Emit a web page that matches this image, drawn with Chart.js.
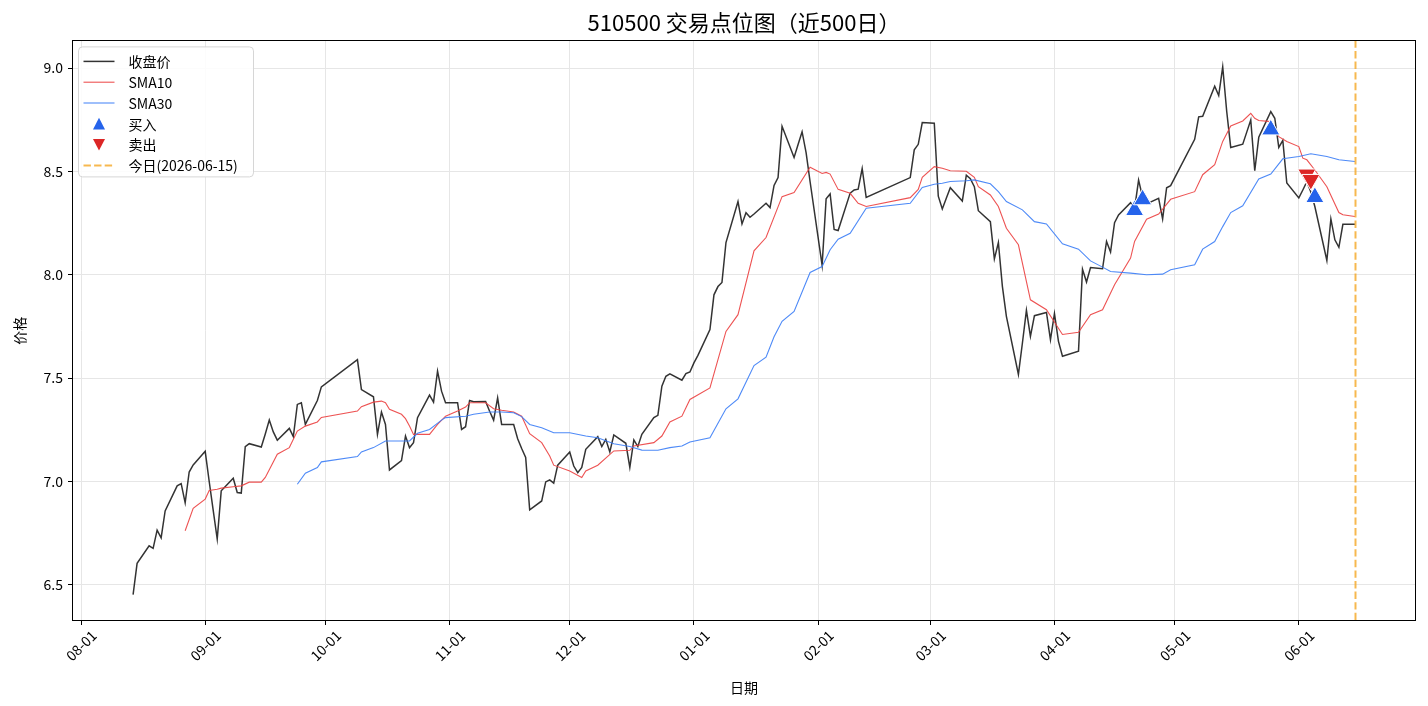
<!DOCTYPE html>
<html>
<head>
<meta charset="utf-8">
<title>510500 交易点位图</title>
<script src="https://cdn.jsdelivr.net/npm/chart.js@4.4.1/dist/chart.umd.min.js"></script>
<style>
  html, body { margin: 0; padding: 0; background: #fff; }
  #wrap { width: 1428px; height: 706px; }
</style>
</head>
<body>
<div id="wrap"><canvas id="chart" width="1428" height="706"></canvas></div>
<script>
const TITLE = "510500 交易点位图（近500日）";
const FONT = '"Noto Sans CJK SC", "Noto Sans", sans-serif';

// closing prices (trading days)
const closeDates = [
  "2025-08-14","2025-08-15","2025-08-18","2025-08-19","2025-08-20","2025-08-21","2025-08-22","2025-08-25","2025-08-26","2025-08-27","2025-08-28","2025-08-29",
  "2025-09-01","2025-09-02","2025-09-03","2025-09-04","2025-09-05","2025-09-08","2025-09-09","2025-09-10","2025-09-11","2025-09-12","2025-09-15","2025-09-16","2025-09-17","2025-09-18","2025-09-19","2025-09-22","2025-09-23","2025-09-24","2025-09-25","2025-09-26","2025-09-29","2025-09-30",
  "2025-10-09","2025-10-10","2025-10-13","2025-10-14","2025-10-15","2025-10-16","2025-10-17","2025-10-20","2025-10-21","2025-10-22","2025-10-23","2025-10-24","2025-10-27","2025-10-28","2025-10-29","2025-10-30","2025-10-31",
  "2025-11-03","2025-11-04","2025-11-05","2025-11-06","2025-11-07","2025-11-10","2025-11-11","2025-11-12","2025-11-13","2025-11-14","2025-11-17","2025-11-18","2025-11-19","2025-11-20","2025-11-21","2025-11-24","2025-11-25","2025-11-26","2025-11-27","2025-11-28",
  "2025-12-01","2025-12-02","2025-12-03","2025-12-04","2025-12-05","2025-12-08","2025-12-09","2025-12-10","2025-12-11","2025-12-12","2025-12-15","2025-12-16","2025-12-17","2025-12-18","2025-12-19","2025-12-22","2025-12-23","2025-12-24","2025-12-25","2025-12-26","2025-12-29","2025-12-30","2025-12-31",
  "2026-01-01","2026-01-02","2026-01-05","2026-01-06","2026-01-07","2026-01-08","2026-01-09","2026-01-12","2026-01-13","2026-01-14","2026-01-15","2026-01-16","2026-01-19","2026-01-20","2026-01-21","2026-01-22","2026-01-23","2026-01-26","2026-01-27","2026-01-28","2026-01-29","2026-01-30",
  "2026-02-02","2026-02-03","2026-02-04","2026-02-05","2026-02-06","2026-02-09","2026-02-10","2026-02-11","2026-02-12","2026-02-13","2026-02-24","2026-02-25","2026-02-26","2026-02-27",
  "2026-03-02","2026-03-03","2026-03-04","2026-03-05","2026-03-06","2026-03-09","2026-03-10","2026-03-11","2026-03-12","2026-03-13","2026-03-16","2026-03-17","2026-03-18","2026-03-19","2026-03-20","2026-03-23","2026-03-24","2026-03-25","2026-03-26","2026-03-27","2026-03-30","2026-03-31",
  "2026-04-01","2026-04-02","2026-04-03","2026-04-07","2026-04-08","2026-04-09","2026-04-10","2026-04-13","2026-04-14","2026-04-15","2026-04-16","2026-04-17","2026-04-20","2026-04-21","2026-04-22","2026-04-23","2026-04-24","2026-04-27","2026-04-28","2026-04-29","2026-04-30",
  "2026-05-06","2026-05-07","2026-05-08","2026-05-11","2026-05-12","2026-05-13","2026-05-14","2026-05-15","2026-05-18","2026-05-19","2026-05-20","2026-05-21","2026-05-22","2026-05-25","2026-05-26","2026-05-27","2026-05-28","2026-05-29",
  "2026-06-01","2026-06-02","2026-06-03","2026-06-04","2026-06-05","2026-06-08","2026-06-09","2026-06-10","2026-06-11","2026-06-12","2026-06-15"
];
const closeValues = [
  6.453,6.604,6.689,6.677,6.765,6.728,6.858,6.979,6.990,6.897,7.046,7.080,
  7.146,7.000,6.860,6.722,6.955,7.016,6.947,6.944,7.169,7.183,7.167,7.230,7.297,7.240,7.200,7.257,7.217,7.373,7.381,7.276,7.392,7.458,
  7.590,7.445,7.410,7.228,7.336,7.276,7.056,7.101,7.220,7.164,7.188,7.309,7.418,7.384,7.534,7.437,7.381,
  7.381,7.252,7.265,7.392,7.386,7.387,7.340,7.297,7.405,7.276,7.276,7.207,7.160,7.116,6.863,6.906,6.998,7.008,6.992,7.079,
  7.143,7.075,7.043,7.068,7.156,7.217,7.169,7.204,7.143,7.225,7.185,7.068,7.201,7.169,7.228,7.309,7.320,7.461,7.509,7.521,7.490,7.522,7.530,
  7.574,7.610,7.735,7.903,7.943,7.963,8.156,8.354,8.246,8.300,8.278,8.294,8.346,8.325,8.432,8.470,8.718,8.567,8.630,8.692,8.591,8.450,
  8.046,8.367,8.391,8.219,8.214,8.395,8.410,8.414,8.514,8.374,8.470,8.604,8.631,8.736,
  8.733,8.380,8.318,8.370,8.421,8.357,8.482,8.465,8.426,8.310,8.257,8.077,8.156,7.944,7.799,7.518,7.670,7.828,7.702,7.802,7.818,7.686,
  7.812,7.678,7.606,7.630,8.027,7.965,8.035,8.029,8.161,8.110,8.252,8.289,8.349,8.320,8.458,8.375,8.343,8.370,8.270,8.421,8.431,
  8.655,8.764,8.767,8.912,8.867,9.006,8.790,8.616,8.632,8.690,8.749,8.503,8.665,8.789,8.757,8.616,8.650,8.444,
  8.372,8.410,8.450,8.400,8.330,8.069,8.270,8.169,8.133,8.244,8.244
];

// 10-day moving average
const sma10Dates = [
  "2025-08-27","2025-08-29","2025-09-01","2025-09-02","2025-09-04","2025-09-05","2025-09-08","2025-09-10","2025-09-12","2025-09-15","2025-09-16","2025-09-19","2025-09-22","2025-09-24","2025-09-26","2025-09-29","2025-09-30",
  "2025-10-09","2025-10-10","2025-10-13","2025-10-15","2025-10-16","2025-10-17","2025-10-20","2025-10-21","2025-10-22","2025-10-23","2025-10-24","2025-10-27","2025-10-28","2025-10-29","2025-10-31",
  "2025-11-03","2025-11-05","2025-11-06","2025-11-10","2025-11-12","2025-11-14","2025-11-17","2025-11-19","2025-11-21","2025-11-24","2025-11-26","2025-11-27",
  "2025-12-01","2025-12-04","2025-12-05","2025-12-08","2025-12-12","2025-12-16","2025-12-17","2025-12-22","2025-12-24","2025-12-26","2025-12-29","2025-12-31",
  "2026-01-05","2026-01-09","2026-01-12","2026-01-16","2026-01-19","2026-01-23","2026-01-26","2026-01-30",
  "2026-02-02","2026-02-03","2026-02-04","2026-02-06","2026-02-09","2026-02-11","2026-02-13","2026-02-24","2026-02-26","2026-02-27",
  "2026-03-02","2026-03-04","2026-03-06","2026-03-10","2026-03-12","2026-03-13","2026-03-16","2026-03-18","2026-03-20","2026-03-23","2026-03-26","2026-03-30",
  "2026-04-03","2026-04-07","2026-04-10","2026-04-13","2026-04-16","2026-04-20","2026-04-21","2026-04-24","2026-04-27","2026-04-30",
  "2026-05-06","2026-05-08","2026-05-11","2026-05-13","2026-05-15","2026-05-18","2026-05-20","2026-05-21","2026-05-22","2026-05-25","2026-05-27","2026-05-29",
  "2026-06-01","2026-06-02","2026-06-03","2026-06-05","2026-06-08","2026-06-11","2026-06-12","2026-06-15"
];
const sma10Values = [
  6.762,6.870,6.915,6.957,6.963,6.968,6.975,6.979,6.997,6.997,7.020,7.132,7.164,7.244,7.268,7.288,7.310,
  7.341,7.362,7.384,7.389,7.381,7.349,7.325,7.304,7.268,7.228,7.228,7.228,7.252,7.276,7.316,
  7.341,7.360,7.381,7.381,7.352,7.345,7.336,7.316,7.231,7.188,7.123,7.079,
  7.051,7.019,7.051,7.079,7.148,7.151,7.172,7.188,7.220,7.288,7.316,7.397,
  7.453,7.726,7.807,8.116,8.180,8.378,8.398,8.520,
  8.490,8.495,8.487,8.413,8.394,8.346,8.330,8.373,8.413,8.471,
  8.523,8.515,8.503,8.501,8.471,8.426,8.386,8.330,8.225,8.145,7.879,7.831,
  7.711,7.722,7.807,7.831,7.952,8.081,8.161,8.269,8.294,8.365,
  8.402,8.484,8.532,8.645,8.720,8.744,8.781,8.757,8.746,8.741,8.668,8.645,
  8.620,8.564,8.556,8.507,8.426,8.301,8.290,8.282
];

// 30-day moving average
const sma30Dates = [
  "2025-09-24","2025-09-26","2025-09-29","2025-09-30",
  "2025-10-09","2025-10-10","2025-10-13","2025-10-16","2025-10-22","2025-10-24","2025-10-27","2025-10-30","2025-10-31",
  "2025-11-05","2025-11-07","2025-11-11","2025-11-14","2025-11-17","2025-11-19","2025-11-21","2025-11-24","2025-11-27",
  "2025-12-01","2025-12-05","2025-12-08","2025-12-12","2025-12-16","2025-12-19","2025-12-23","2025-12-26","2025-12-29","2025-12-31",
  "2026-01-05","2026-01-09","2026-01-12","2026-01-16","2026-01-19","2026-01-21","2026-01-23","2026-01-26","2026-01-30",
  "2026-02-02","2026-02-04","2026-02-06","2026-02-09","2026-02-13","2026-02-24","2026-02-27",
  "2026-03-02","2026-03-04","2026-03-06","2026-03-10","2026-03-12","2026-03-16","2026-03-18","2026-03-20","2026-03-24","2026-03-27","2026-03-30",
  "2026-04-03","2026-04-07","2026-04-10","2026-04-13","2026-04-15","2026-04-20","2026-04-24","2026-04-28","2026-04-30",
  "2026-05-06","2026-05-08","2026-05-11","2026-05-13","2026-05-15","2026-05-18","2026-05-22","2026-05-25","2026-05-28",
  "2026-06-01","2026-06-04","2026-06-08","2026-06-11","2026-06-15"
];
const sma30Values = [
  6.987,7.040,7.068,7.095,
  7.121,7.143,7.164,7.196,7.196,7.233,7.252,7.297,7.309,
  7.316,7.325,7.336,7.336,7.333,7.314,7.276,7.260,7.236,
  7.236,7.220,7.212,7.183,7.169,7.152,7.151,7.164,7.172,7.191,
  7.212,7.352,7.400,7.561,7.601,7.700,7.775,7.823,8.011,
  8.040,8.121,8.172,8.201,8.322,8.346,8.422,
  8.438,8.443,8.451,8.455,8.459,8.440,8.402,8.354,8.314,8.257,8.246,
  8.150,8.124,8.067,8.037,8.016,8.008,8.000,8.003,8.024,
  8.048,8.124,8.161,8.233,8.301,8.334,8.463,8.487,8.561,
  8.572,8.585,8.572,8.556,8.548
];

// trade signals
const buyDates = ["2026-04-21", "2026-04-23", "2026-05-25", "2026-06-05"];
const buyValues = [8.312, 8.364, 8.702, 8.375];
const sellDates = ["2026-06-03", "2026-06-04"];
const sellValues = [8.486, 8.460];

const todayDate = "2026-06-15";
const monthTicks = ["2025-08-01","2025-09-01","2025-10-01","2025-11-01","2025-12-01","2026-01-01","2026-02-01","2026-03-01","2026-04-01","2026-05-01","2026-06-01"];
const yTicks = [6.5, 7.0, 7.5, 8.0, 8.5, 9.0];

const DAY0 = Date.UTC(2025, 7, 1);
function dayNum(s) {
  const p = s.split("-").map(Number);
  return (Date.UTC(p[0], p[1] - 1, p[2]) - DAY0) / 86400000;
}
function pts(dates, vals) {
  return dates.map((d, i) => ({x: dayNum(d), y: vals[i]}));
}

// axis limits like matplotlib auto margins (5%)
const xFirst = dayNum(closeDates[0]);
const xLast = dayNum(todayDate);
const xPad = (xLast - xFirst) * 0.05;
const yLo = Math.min(...closeValues), yHi = Math.max(...closeValues);
const yPad = (yHi - yLo) * 0.05;

const todayLabel = "今日(" + todayDate + ")";
const todayColor = "rgba(245,166,35,0.8)";

const framePlugin = {
  id: "frame",
  afterDatasetsDraw(chart) {
    const {ctx, chartArea: a, scales} = chart;
    const x = Math.round(scales.x.getPixelForValue(dayNum(todayDate))) + 0.5;
    ctx.save();
    ctx.strokeStyle = todayColor;
    ctx.lineWidth = 2;
    ctx.setLineDash([7.4, 3.2]);
    ctx.beginPath();
    ctx.moveTo(x, a.top);
    ctx.lineTo(x, a.bottom);
    ctx.stroke();
    ctx.restore();
  },
  afterDraw(chart) {
    const {ctx, chartArea: a} = chart;
    ctx.save();
    ctx.strokeStyle = "#000";
    ctx.lineWidth = 1;
    ctx.strokeRect(Math.round(a.left) + 0.5, Math.round(a.top) + 0.5,
                   Math.round(a.right - a.left) - 1, Math.round(a.bottom - a.top) - 1);

    // legend box, upper left
    const bx = a.left + 6.5, by = a.top + 6.5, bw = 175, bh = 130;
    ctx.fillStyle = "rgba(255,255,255,0.85)";
    ctx.strokeStyle = "#d6d6d6";
    ctx.beginPath();
    ctx.roundRect(bx, by, bw, bh, 4);
    ctx.fill();
    ctx.stroke();

    const items = chart.data.datasets.map(ds => ds);
    items.push({label: todayLabel, today: true});
    ctx.font = "14px " + FONT;
    ctx.textBaseline = "middle";
    ctx.textAlign = "left";
    items.forEach((it, i) => {
      const cy = by + 14.5 + i * 20.8;
      const hx0 = bx + 5, hx1 = bx + 36, hc = (hx0 + hx1) / 2;
      ctx.save();
      if (it.today) {
        ctx.strokeStyle = todayColor;
        ctx.lineWidth = 2;
        ctx.setLineDash([7.4, 3.2]);
        ctx.beginPath(); ctx.moveTo(hx0, cy); ctx.lineTo(hx1, cy); ctx.stroke();
      } else if (it.type === "scatter") {
        const r = 7.5;
        const down = it.pointRotation === 180;
        ctx.fillStyle = it.backgroundColor;
        ctx.beginPath();
        if (down) {
          ctx.moveTo(hc, cy + r * 0.8); ctx.lineTo(hc - r * 0.8, cy - r * 0.75); ctx.lineTo(hc + r * 0.8, cy - r * 0.75);
        } else {
          ctx.moveTo(hc, cy - r * 0.8); ctx.lineTo(hc - r * 0.8, cy + r * 0.75); ctx.lineTo(hc + r * 0.8, cy + r * 0.75);
        }
        ctx.closePath();
        ctx.fill();
      } else {
        ctx.strokeStyle = it.borderColor;
        ctx.lineWidth = it.borderWidth;
        ctx.beginPath(); ctx.moveTo(hx0, cy); ctx.lineTo(hx1, cy); ctx.stroke();
      }
      ctx.restore();
      ctx.fillStyle = "#000";
      ctx.fillText(it.label, bx + 50, cy + 0.5);
    });
    ctx.restore();
  }
};

const ctx = document.getElementById("chart").getContext("2d");
new Chart(ctx, {
  type: "line",
  data: {
    datasets: [
      {label: "收盘价", data: pts(closeDates, closeValues), borderColor: "rgba(0,0,0,0.8)", borderWidth: 1.5, pointRadius: 0, order: 3},
      {label: "SMA10", data: pts(sma10Dates, sma10Values), borderColor: "rgba(235,64,64,0.9)", borderWidth: 1.1, pointRadius: 0, order: 2},
      {label: "SMA30", data: pts(sma30Dates, sma30Values), borderColor: "rgba(59,125,246,0.9)", borderWidth: 1.1, pointRadius: 0, order: 1},
      {type: "scatter", label: "买入", data: pts(buyDates, buyValues), pointStyle: "triangle", pointRadius: 10.5,
       backgroundColor: "#2563eb", borderColor: "#ffffff", borderWidth: 1, order: 0},
      {type: "scatter", label: "卖出", data: pts(sellDates, sellValues), pointStyle: "triangle", pointRotation: 180, pointRadius: 10.5,
       backgroundColor: "#dc2626", borderColor: "#ffffff", borderWidth: 1, order: 0}
    ]
  },
  options: {
    responsive: false,
    animation: false,
    events: [],
    devicePixelRatio: 1,
    layout: {padding: {left: 0, right: 12, top: 0, bottom: 0}},
    elements: {line: {tension: 0}},
    plugins: {
      legend: {display: false},
      tooltip: {enabled: false},
      title: {
        display: true, text: TITLE, color: "#000", fullSize: false,
        font: {family: FONT, size: 22, weight: "normal"},
        padding: {top: 9, bottom: 5}
      }
    },
    scales: {
      x: {
        type: "linear",
        min: xFirst - xPad,
        max: xLast + xPad,
        afterBuildTicks(scale) { scale.ticks = monthTicks.map(d => ({value: dayNum(d)})); },
        afterFit(scale) { scale.height = 85; },
        grid: {color: "#e6e6e6", tickColor: "#000", tickLength: 4, drawTicks: true},
        border: {display: false},
        ticks: {
          autoSkip: false, minRotation: 45, maxRotation: 45, padding: 2, labelOffset: 13,
          color: "#000", font: {family: FONT, size: 14},
          callback(v) {
            const i = monthTicks.findIndex(d => dayNum(d) === v);
            return i < 0 ? "" : monthTicks[i].slice(5);
          }
        },
        title: {display: true, text: "日期", color: "#000", font: {family: FONT, size: 14}, padding: {top: 0, bottom: 10}}
      },
      y: {
        type: "linear",
        min: yLo - yPad,
        max: yHi + yPad,
        afterBuildTicks(scale) { scale.ticks = yTicks.map(v => ({value: v})); },
        afterFit(scale) { scale.width = 72; },
        grid: {color: "#e6e6e6", tickColor: "#000", tickLength: 4, drawTicks: true},
        border: {display: false},
        ticks: {
          padding: 5, color: "#000", font: {family: FONT, size: 14},
          callback(v) { return v.toFixed(1); }
        },
        title: {display: true, text: "价格", color: "#000", font: {family: FONT, size: 14}, padding: {top: 11, bottom: 0}}
      }
    }
  },
  plugins: [framePlugin]
});
</script>
</body>
</html>
